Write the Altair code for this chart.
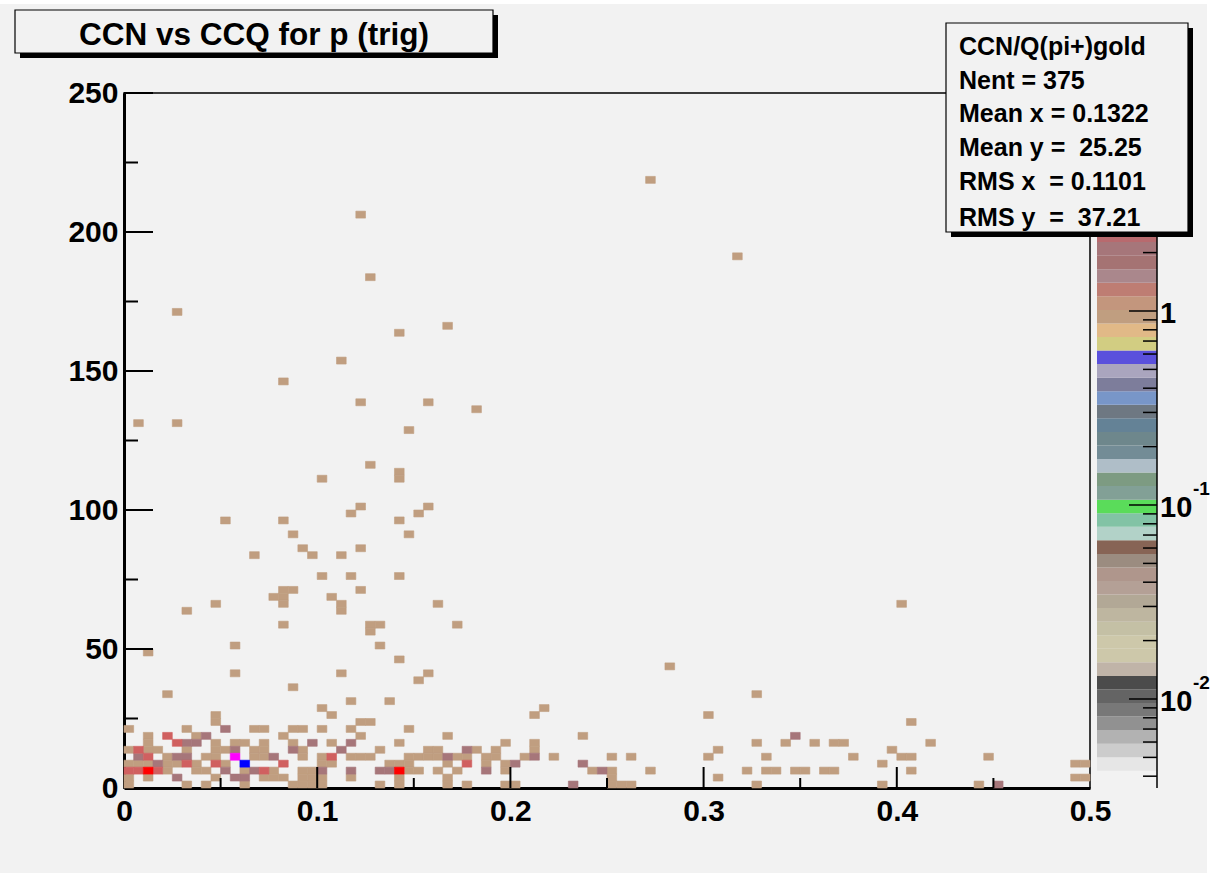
import altair as alt
import pandas as pd
import numpy as np

# ---------------- data ----------------
X_BIN = 0.005   # x bin width (100 bins over 0..0.5)
Y_BIN = 2.5     # y bin width (100 bins over 0..250)

# (x-bin, y-bin) of filled cells, grouped by bin content
cells_z1 = [
    (23,12),(27,12),(20,11),(21,10),(9,10),(9,9),(24,9),(25,9),
    (0,8),(6,8),(13,8),(14,8),(17,8),(18,8),(20,8),(23,8),(29,8),
    (2,7),(7,7),(16,7),(24,7),(33,7),
    (2,6),(9,6),(11,6),(12,6),(14,6),(17,6),(21,6),(28,6),
    (0,5),(2,5),(3,5),(6,5),(9,5),(10,5),(13,5),(14,5),(18,5),(26,5),(31,5),(32,5),
    (4,4),(8,4),(9,4),(13,4),(14,4),(18,4),(20,4),(23,4),(24,4),(25,4),(29,4),(30,4),(31,4),(32,4),
    (0,3),(1,3),(2,3),(4,3),(5,3),(7,3),(10,3),(20,3),(21,3),(27,3),(28,3),(29,3),
    (4,2),(7,2),(8,2),(12,2),(15,2),(18,2),(19,2),(29,2),(30,2),(32,2),
    (0,1),(2,1),(9,1),(14,1),(15,1),(16,1),(18,1),(19,1),(20,1),(23,1),(28,1),
    (0,0),(6,0),(8,0),(12,0),(17,0),(18,0),(19,0),(20,0),(26,0),(28,0),
    (43,11),(42,10),(60,10),(47,7),(39,6),(42,6),(65,6),(36,5),(38,5),(42,5),(61,5),
    (34,4),(35,4),(37,4),(38,4),(41,4),(44,4),(50,4),(52,4),(60,4),(66,4),
    (33,3),(37,3),(39,3),
    (34,2),(39,2),(48,2),(50,2),(54,2),(64,2),(66,2),
    (33,1),(50,1),(61,1),
    (33,0),(35,0),(39,0),(40,0),(50,0),(51,0),(52,0),(65,0),
    (81,9),(68,6),(71,6),(73,6),(74,6),(83,6),(79,5),(75,4),(80,4),(81,4),(89,4),
    (78,3),(98,3),(99,3),(67,2),(69,2),(70,2),(72,2),(73,2),(81,2),(98,1),(99,1),(78,0),(88,0),
    (16,28),(17,28),(15,27),(16,27),(16,26),(21,27),(22,26),(22,25),(24,28),(32,26),(9,26),
    (6,25),(16,23),(25,23),(26,23),(25,22),(11,20),(26,20),(2,19),(28,18),(11,16),(22,16),
    (31,16),(30,15),(17,14),(4,13),
    (25,46),(28,45),(28,44),(20,44),(24,40),(23,39),(31,40),(30,39),(10,38),(16,38),(28,38),
    (17,36),(29,36),(18,34),(24,34),(13,33),(19,33),(22,33),(20,30),(23,30),(28,30),
    (24,82),(25,73),(5,68),(33,66),(28,65),(22,61),(16,58),(24,55),(31,55),(36,54),(1,52),
    (5,52),(29,51),
    (54,87),(63,76),(34,23),(80,26),(56,17),(65,13),
]
cells_z2 = [
    (10,8),(8,7),(6,6),(7,6),(19,6),(23,6),(11,5),(17,5),(22,5),(1,4),(5,4),(6,4),(15,4),
    (3,3),(10,2),(13,2),(20,2),(23,2),(26,2),(27,2),(5,1),(11,1),(12,1),
    (35,5),(33,4),(42,4),(40,3),(47,3),(37,2),(49,2),(46,0),(69,7),(90,0),
]
cells_z3 = [(4,7),(5,6),(1,5),(2,4),(21,4),(6,3),(9,3),(16,3),(0,2),(1,2),(3,2),(14,2),(35,3)]
cells_z4 = [(2,2),(28,2)]
cells_z6 = [(11,4)]
cells_z9 = [(12,3)]

cell_groups = [(1, cells_z1), (2, cells_z2), (3, cells_z3), (4, cells_z4), (6.5, cells_z6), (9, cells_z9)]

# colour palette, bottom to top (50 levels)
palette = [
    "#e6e6e6","#cccccc","#b2b2b2","#919191","#787878","#646464","#4b4b4b","#c0b4a8",
    "#cdc8aa","#cdc8aa","#c4c0a5","#beb6a0","#b2a896","#b4a096","#af968c","#9b8c80",
    "#876455","#b2d2c8","#82c3a5","#5adc5a","#82a096","#7d9b82","#afbec8","#738c96",
    "#6e878c","#648296","#6e7882","#7896c8","#7d7d9b","#aaa5be","#5a50dc","#d2cd82",
    "#e1b987","#c09e80","#c3967d","#be7d73","#aa878c","#a57373","#a6767a","#b86a6e",
    "#d06060","#e04848","#ff0000","#ff0000","#ff0080","#ff00ff","#8000ff","#0000ff",
    "#0000d0","#0000a0",
]
LOG_PAL_LO = -2.37    # log10 of palette bottom
LOG_HI = 1.1237       # log10 of palette / z-axis top
LOG_AX_LO = -2.4588   # log10 of z-axis bottom

x_major = [0.1, 0.2, 0.3, 0.4]
x_minor = [0.05, 0.15, 0.25, 0.35, 0.45]
x_labels = [0, 0.1, 0.2, 0.3, 0.4, 0.5]
y_major = [50, 100, 150, 200, 250]
y_minor = [25, 75, 125, 175, 225]
y_labels = [0, 50, 100, 150, 200, 250]
z_major = [0.01, 0.1, 1, 10]
z_minor = [m * d for d in (0.001, 0.01, 0.1, 1) for m in range(2, 10)]
z_label_vals = [1, 0.1, 0.01]
z_label_base = ["1", "10", "10"]
z_label_sup = ["", "-1", "-2"]

title_text = "CCN vs CCQ for p (trig)"
stats_lines = [
    "CCN/Q(pi+)gold",
    "Nent = 375",
    "Mean x = 0.1322",
    "Mean y =\u00a0 25.25",
    "RMS x\u00a0 = 0.1101",
    "RMS y\u00a0 =\u00a0 37.21",
]

# ---------------- layout / style ----------------
W, H = 966, 695
FONT = "Liberation Sans"
BG = "#f2f2f2"
LABEL_SIZE = 30

rows = []
for z, lst in cell_groups:
    for ix, iy in lst:
        rows.append({"x0": ix * X_BIN, "x1": (ix + 1) * X_BIN,
                     "y0": iy * Y_BIN, "y1": (iy + 1) * Y_BIN, "z": z})
cells_df = pd.DataFrame(rows)

n_pal = len(palette)
pal_edges = [10 ** (LOG_PAL_LO + (LOG_HI - LOG_PAL_LO) * k / n_pal) for k in range(n_pal + 1)]
thresholds = pal_edges[1:-1]
zscale_col = alt.Scale(type="threshold", domain=thresholds, range=palette)

xscale = alt.Scale(domain=[0, 0.5], nice=False, zero=False)
yscale = alt.Scale(domain=[0, 250], nice=False, zero=False)
cbscale = alt.Scale(type="log", domain=[10 ** LOG_AX_LO, 10 ** LOG_HI], nice=False)

xaxis = alt.Axis(values=x_labels, title=None, grid=False, ticks=False, tickSize=0,
                 domainColor="black", domainWidth=3, labelFont=FONT, labelFontWeight="bold",
                 labelFontSize=LABEL_SIZE, labelColor="black", labelPadding=8, labelFlush=False,
                 labelExpr="datum.value == 0 ? '0' : format(datum.value, '.1f')")
yaxis = alt.Axis(values=y_labels, title=None, grid=False, ticks=False, tickSize=0,
                 domainColor="black", domainWidth=3, labelFont=FONT, labelFontWeight="bold",
                 labelFontSize=LABEL_SIZE, labelColor="black", labelPadding=6, labelFlush=False,
                 format="d")

cells = alt.Chart(cells_df).mark_rect(strokeWidth=0.6).encode(
    x=alt.X("x0:Q", scale=xscale, axis=xaxis), x2="x1:Q",
    y=alt.Y("y0:Q", scale=yscale, axis=yaxis), y2="y1:Q",
    color=alt.Color("z:Q", scale=zscale_col, legend=None),
    stroke=alt.Stroke("z:Q", scale=zscale_col, legend=None),
)

xt_major = alt.Chart(pd.DataFrame({"x0": x_major})).mark_rule(color="black", strokeWidth=2).encode(
    x=alt.X("x0:Q", scale=xscale, axis=xaxis), y=alt.value(H), y2=alt.value(H - 21))
xt_minor = alt.Chart(pd.DataFrame({"x0": x_minor})).mark_rule(color="black", strokeWidth=2).encode(
    x=alt.X("x0:Q", scale=xscale, axis=xaxis), y=alt.value(H), y2=alt.value(H - 10))
yt_major = alt.Chart(pd.DataFrame({"y0": y_major})).mark_rule(color="black", strokeWidth=2).encode(
    y=alt.Y("y0:Q", scale=yscale, axis=yaxis), x=alt.value(0), x2=alt.value(29))
yt_minor = alt.Chart(pd.DataFrame({"y0": y_minor})).mark_rule(color="black", strokeWidth=2).encode(
    y=alt.Y("y0:Q", scale=yscale, axis=yaxis), x=alt.value(0), x2=alt.value(14))

main = alt.layer(cells, xt_major, xt_minor, yt_major, yt_minor)

# ---------------- colour bar ----------------
CB_X0, CB_X1 = 973, 1033
bands_df = pd.DataFrame({"lo": pal_edges[:-1], "hi": pal_edges[1:], "col": palette})
bands = alt.Chart(bands_df).mark_rect().encode(
    y=alt.Y("lo:Q", scale=cbscale, axis=None), y2="hi:Q",
    x=alt.value(CB_X0), x2=alt.value(CB_X1),
    fill=alt.Fill("col:N", scale=None))
zmin_ax, zmax_ax = 10 ** LOG_AX_LO, 10 ** LOG_HI
zt_major = alt.Chart(pd.DataFrame({"t": [v for v in z_major if zmin_ax <= v <= zmax_ax]})).mark_rule(
    color="black", strokeWidth=1.5).encode(
    y=alt.Y("t:Q", scale=cbscale, axis=None), x=alt.value(CB_X1 - 28), x2=alt.value(CB_X1))
zt_minor = alt.Chart(pd.DataFrame({"t": [v for v in z_minor if zmin_ax <= v <= zmax_ax]})).mark_rule(
    color="black", strokeWidth=1.5).encode(
    y=alt.Y("t:Q", scale=cbscale, axis=None), x=alt.value(CB_X1 - 14), x2=alt.value(CB_X1))
zline = alt.Chart(pd.DataFrame({"t": [zmin_ax, zmax_ax]})).mark_rule(color="black", strokeWidth=1.5).encode(
    y=alt.Y("min(t):Q", scale=cbscale, axis=None), y2="max(t):Q", x=alt.value(CB_X1))
zlab_df = pd.DataFrame({"t": z_label_vals, "base": z_label_base, "sup": z_label_sup})
zlab = alt.Chart(zlab_df).mark_text(align="left", baseline="middle", font=FONT, fontWeight="bold",
                                   fontSize=29, color="black", dy=3).encode(
    y=alt.Y("t:Q", scale=cbscale, axis=None), x=alt.value(CB_X1 + 3), text="base:N")
zsup = alt.Chart(zlab_df).mark_text(align="left", baseline="middle", font=FONT, fontWeight="bold",
                                   fontSize=19, color="black", dy=-16).encode(
    y=alt.Y("t:Q", scale=cbscale, axis=None), x=alt.value(CB_X1 + 36), text="sup:N")
cbar = alt.layer(bands, zt_major, zt_minor, zline, zlab, zsup)

# ---------------- decorations (canvas, title box, stats box) ----------------
one = pd.DataFrame({"a": [0]})
canvas_white_top = alt.Chart(one).mark_rect(color="white").encode(
    x=alt.value(-124), x2=alt.value(1087), y=alt.value(-93), y2=alt.value(-89))
canvas_white_right = alt.Chart(one).mark_rect(color="white").encode(
    x=alt.value(1083), x2=alt.value(1087), y=alt.value(-93), y2=alt.value(780))

title_shadow = alt.Chart(one).mark_rect(color="black").encode(
    x=alt.value(-104), x2=alt.value(374), y=alt.value(-78), y2=alt.value(-35))
title_box = alt.Chart(one).mark_rect(fill=BG, stroke="black", strokeWidth=1.2).encode(
    x=alt.value(-109), x2=alt.value(369), y=alt.value(-83), y2=alt.value(-40))
title_txt = alt.Chart(pd.DataFrame({"t": [title_text]})).mark_text(
    align="center", baseline="alphabetic", font=FONT, fontWeight="bold", fontSize=31.5,
    color="black").encode(x=alt.value(130), y=alt.value(-48), text="t:N")

stats_shadow = alt.Chart(one).mark_rect(color="black").encode(
    x=alt.value(827), x2=alt.value(1069), y=alt.value(-65), y2=alt.value(144))
stats_box = alt.Chart(one).mark_rect(fill=BG, stroke="black", strokeWidth=1.2).encode(
    x=alt.value(822), x2=alt.value(1064), y=alt.value(-70), y2=alt.value(139))
stats_baselines = [-38, -4, 29, 63, 97, 133]
stats_txt = [
    alt.Chart(pd.DataFrame({"t": [line]})).mark_text(
        align="left", baseline="alphabetic", font=FONT, fontWeight="bold", fontSize=25,
        color="black").encode(x=alt.value(835), y=alt.value(b), text="t:N")
    for line, b in zip(stats_lines, stats_baselines)
]

chart = alt.layer(
    canvas_white_top, canvas_white_right,
    main, cbar,
    title_shadow, title_box, title_txt,
    stats_shadow, stats_box, *stats_txt,
).resolve_scale(y="independent", color="independent").properties(
    width=W, height=H, autosize="none",
    padding={"left": 124, "top": 93, "right": 121, "bottom": 85},
    background=BG,
).configure_view(stroke="black", strokeWidth=1.5, fill=None)

chart.save("out.html", embed_options={"renderer": "svg", "actions": False})
